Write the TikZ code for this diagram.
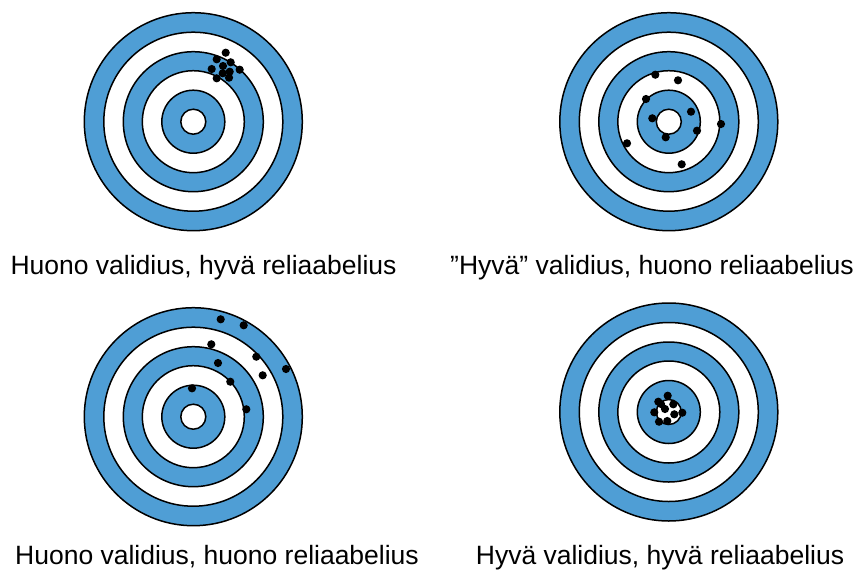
\documentclass[tikz,border=0pt]{standalone}
\usepackage{fontspec}
\setmainfont{Liberation Sans}
\definecolor{tblue}{RGB}{79,158,213}
\tikzset{
  ringc/.style={draw=black, line width=1.5pt},
  target/.pic={
    \foreach \r/\c in {109/tblue, 89.5/white, 70/tblue, 51/white, 31.5/tblue, 12.5/white}
      \filldraw[ringc, fill=\c] (0,0) circle[radius=\r pt];
  },
  hit/.style={fill=black},
  lbl/.style={anchor=base, inner sep=0pt, font=\fontsize{26.5}{30}\selectfont}
}
\begin{document}
\begin{tikzpicture}[x=1pt,y=-1pt]
\useasboundingbox (0,0) rectangle (862,571);
\fill[white] (0,0) rectangle (862,571);
% targets
\pic at (193.3,121.7) {target};
\pic at (668.8,121.7) {target};
\pic at (193.3,416.7) {target};
\pic at (668.8,412) {target};
% target 1 hits
\foreach \x/\y in {225.7/52.7, 216.7/59.3, 230.7/62.3, 223/66, 211.7/69, 239.7/69.7, 229.7/71.7, 222.7/73.3, 216.7/78.3, 229/77.7}
  \fill[hit] (\x,\y) circle[radius=4.1pt];
% target 2 hits
\foreach \x/\y in {655.3/74.7, 678/80.3, 646/99, 691/111.7, 652.3/118.3, 721/124, 697/130.7, 665.7/137.3, 627/143.3, 681.7/164.3}
  \fill[hit] (\x,\y) circle[radius=4.1pt];
% target 3 hits
\foreach \x/\y in {220.7/319.3, 243.7/325.3, 211.3/344.3, 256.3/356.7, 286/369, 218/363, 262.7/375.3, 230.3/381.7, 192/388.3, 246.3/409.3}
  \fill[hit] (\x,\y) circle[radius=4.1pt];
% target 4 hits
\foreach \x/\y in {667.7/395.7, 658.3/401.7, 673.3/404.3, 665/409, 654.3/412.3, 682.3/412.7, 674.3/414.3, 659/421.7, 667.3/421, 661/404}
  \fill[hit] (\x,\y) circle[radius=4.1pt];
% labels
\node[lbl] (l1) at (203.5,274) {Huono validius, hyvä reliaabelius};
\node[lbl] (l2) at (652,274) {”Hyvä” validius, huono reliaabelius};
\node[lbl] (l3) at (217,564) {Huono validius, huono reliaabelius};
\node[lbl] (l4) at (660,564) {Hyvä validius, hyvä reliaabelius};
\end{tikzpicture}
\end{document}
